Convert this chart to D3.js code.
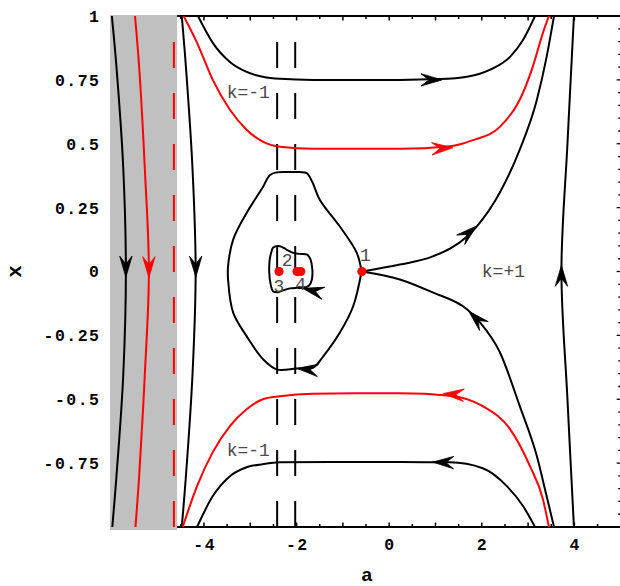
<!DOCTYPE html>
<html><head><meta charset="utf-8">
<script src="https://cdn.jsdelivr.net/npm/d3@7"></script>
<style>body{margin:0;background:#fff}</style>
</head><body>
<svg id="c" width="620" height="586"></svg>
<script>
// ---------- data ----------
const xTicks = [-4, -2, 0, 2, 4];
const xTickLabels = ["-4", "-2", "0", "2", "4"];
const yTicks = [-0.75, -0.5, -0.25, 0, 0.25, 0.5, 0.75, 1];
const yTickLabels = ["-0.75", "-0.5", "-0.25", "0", "0.25", "0.5", "0.75", "1"];

const forbiddenBand = [-6.03, -4.58];
const dashedRed = [-4.65];
const dashedBlack = [-2.42, -2.03];
const dashTop = 0.898;

const leftBlack = [[-5.99,1],[-5.89,0.80],[-5.745,0.41],[-5.687,0],[-5.745,-0.41],[-5.89,-0.80],[-5.98,-1]];
const leftRed = [[-5.49,1],[-5.40,0.80],[-5.28,0.41],[-5.19,0],[-5.28,-0.41],[-5.40,-0.80],[-5.48,-1]];
const wallBlack = [[-4.48,1],[-4.39,0.80],[-4.25,0.41],[-4.18,0],[-4.25,-0.41],[-4.39,-0.80],[-4.48,-1]];
const topBlack = [[-4.13,1.0],[-3.81,0.895],[-3.44,0.82],[-3.08,0.781],[-2.73,0.762],[-2.36,0.754],[-1.65,0.75],[-0.7,0.75],[0.23,0.75],[1.09,0.753],[1.68,0.762],[2.17,0.789],[2.61,0.84],[2.89,0.906],[3.15,1.0]];
const topRed = [[-4.44,1],[-4.15,0.895],[-3.81,0.75],[-3.44,0.633],[-3.08,0.555],[-2.73,0.508],[-2.36,0.488],[-1.65,0.48],[-0.7,0.48],[0.23,0.48],[1.31,0.49],[1.81,0.514],[2.39,0.566],[2.82,0.672],[3.10,0.801],[3.32,0.934],[3.45,1.0]];
const botRed = [[-4.46,-1],[-4.15,-0.84],[-3.81,-0.707],[-3.44,-0.605],[-3.08,-0.539],[-2.73,-0.5],[-2.36,-0.488],[-1.65,-0.478],[-0.7,-0.477],[0.23,-0.477],[1.31,-0.486],[2.02,-0.527],[2.61,-0.617],[3.04,-0.762],[3.32,-0.891],[3.45,-1]];
const botBlack = [[-4.15,-1],[-3.81,-0.879],[-3.44,-0.801],[-3.08,-0.766],[-2.73,-0.754],[-2.36,-0.747],[-1.2,-0.746],[0.23,-0.746],[1.31,-0.747],[2.02,-0.770],[2.54,-0.840],[2.89,-0.918],[3.15,-1]];
const sepUp = [[-0.59,0],[0.23,0.027],[0.94,0.059],[1.68,0.137],[1.89,0.176],[2.39,0.309],[2.82,0.477],[3.19,0.672],[3.40,0.84],[3.56,1]];
const sepDown = [[-0.59,0],[0.23,-0.031],[0.94,-0.082],[1.68,-0.148],[1.96,-0.199],[2.39,-0.316],[2.82,-0.527],[3.19,-0.723],[3.40,-0.879],[3.56,-1]];
const rightBlack = [[3.99,1],[3.85,0.5],[3.72,0],[3.85,-0.5],[3.99,-1]];
const bigLoop = [[-0.597,0],[-0.70,0.073],[-1.065,0.176],[-1.50,0.281],[-1.66,0.350],[-1.78,0.385],[-1.93,0.389],[-2.145,0.389],[-2.43,0.388],[-2.58,0.377],[-2.72,0.333],[-3.08,0.229],[-3.37,0.125],[-3.48,0.021],[-3.48,-0.031],[-3.37,-0.161],[-3.08,-0.253],[-2.72,-0.344],[-2.43,-0.383],[-2.0,-0.380],[-1.64,-0.376],[-1.42,-0.331],[-1.065,-0.239],[-0.778,-0.136],[-0.597,0]];
const smallLoop = [[-2.51,0.093],[-2.36,0.099],[-2.22,0.086],[-2.07,0.073],[-1.93,0.069],[-1.77,0.066],[-1.70,0.047],[-1.66,0.008],[-1.67,-0.031],[-1.73,-0.055],[-1.86,-0.064],[-2.0,-0.064],[-2.145,-0.066],[-2.29,-0.074],[-2.40,-0.081],[-2.51,-0.077],[-2.56,-0.051],[-2.59,-0.005],[-2.58,0.047],[-2.54,0.079]];

const fixedPointsA = [-0.59, -2.38, -1.99, -1.91];
const pointLabels = ["1", "2", "3", "4"];
const pointLabelPos = [[-0.63, 0.042], [-2.32, 0.023], [-2.50, -0.081], [-2.03, -0.071]];
const regionLabels = ["k=-1", "k=-1", "k=+1"];
const regionLabelPos = [[-3.51, 0.68], [-3.51, -0.721], [2.0, -0.022]];

// arrows: curve name, tip [a,x], from [a,x]
const arrows = [
  ["leftBlack", [-5.687,-0.022], [-5.687,0.07]],
  ["leftRed", [-5.19,-0.024], [-5.19,0.07]],
  ["wallBlack", [-4.176,-0.022], [-4.18,0.07]],
  ["topBlack", [1.14,0.75], [0.7,0.75]],
  ["topRed", [1.375,0.484], [0.9,0.48]],
  ["sepUp", [1.89,0.178], [1.53,0.122]],
  ["sepDown", [1.72,-0.156], [2.15,-0.232]],
  ["rightBlack", [3.72,0.024], [3.72,-0.07]],
  ["botRed", [1.16,-0.478], [1.6,-0.484]],
  ["botBlack", [0.94,-0.746], [1.4,-0.748]],
  ["bigLoop", [-1.99,-0.379], [-1.60,-0.386]],
  ["smallLoop", [-1.866,-0.066], [-1.50,-0.082]]
];

// ---------- drawing ----------
const svg = d3.select("#c");
const X = d3.scaleLinear().domain([-6.03, 5]).range([110, 620.7]);
const Y = d3.scaleLinear().domain([-1, 1]).range([527, 16]);
const RED = "#ff0000";
const colorOf = {leftBlack:"#000", leftRed:RED, wallBlack:"#000", topBlack:"#000", topRed:RED,
  botRed:RED, botBlack:"#000", sepUp:"#000", sepDown:"#000", rightBlack:"#000", bigLoop:"#000", smallLoop:"#000"};
const curves = {leftBlack, leftRed, wallBlack, topBlack, topRed, botRed, botBlack, sepUp, sepDown, rightBlack, bigLoop, smallLoop};
const monoX = new Set(["topBlack","topRed","botRed","botBlack","sepUp","sepDown"]);

svg.append("defs").append("clipPath").attr("id","clip")
  .append("rect").attr("x", X(-6.03)).attr("y", Y(1)).attr("width", X(5)-X(-6.03)).attr("height", Y(-1)-Y(1));

// frame top & bottom
const frame = svg.append("g").attr("stroke","#000").attr("stroke-width",2);
frame.append("line").attr("x1",X(-6.03)).attr("x2",620).attr("y1",Y(1)).attr("y2",Y(1));
frame.append("line").attr("x1",X(-6.03)).attr("x2",620).attr("y1",Y(-1)).attr("y2",Y(-1));
const tickVals = d3.range(-4.5, 5, 0.5);
const tg = svg.append("g").attr("stroke","#000").attr("stroke-width",1.5);
tickVals.forEach(v => {
  const len = Number.isInteger(v) ? 4.5 : 3;
  tg.append("line").attr("x1",X(v)).attr("x2",X(v)).attr("y1",Y(-1)).attr("y2",Y(-1)-len);
  tg.append("line").attr("x1",X(v)).attr("x2",X(v)).attr("y1",Y(1)).attr("y2",Y(1)+len);
});
// right side ticks
d3.range(-1, 1.0001, 0.05).forEach(v => {
  const maj = Math.abs(v*4 - Math.round(v*4)) < 1e-6;
  tg.append("line").attr("x1",X(5)).attr("x2",X(5)-(maj?4:2.5)).attr("y1",Y(v)).attr("y2",Y(v)).attr("stroke-width",1.3);
});

// gray band
svg.append("rect").attr("x",X(forbiddenBand[0])).attr("y",Y(1)-1)
  .attr("width",X(forbiddenBand[1])-X(forbiddenBand[0])).attr("height",Y(-1)-Y(1)+4).attr("fill","#c0c0c0");

const plot = svg.append("g").attr("clip-path","url(#clip)");
// dashed lines
dashedRed.forEach(a => plot.append("line").attr("x1",X(a)).attr("x2",X(a)).attr("y1",Y(dashTop)).attr("y2",Y(-1))
  .attr("stroke",RED).attr("stroke-width",2).attr("stroke-dasharray","26,25"));
dashedBlack.forEach(a => plot.append("line").attr("x1",X(a)).attr("x2",X(a)).attr("y1",Y(dashTop)).attr("y2",Y(-1))
  .attr("stroke","#000").attr("stroke-width",2).attr("stroke-dasharray","26,25"));

const lineCR = d3.line().x(d=>X(d[0])).y(d=>Y(d[1])).curve(d3.curveCatmullRom.alpha(0.5));
const lineMX = d3.line().x(d=>X(d[0])).y(d=>Y(d[1])).curve(d3.curveMonotoneX);
const lineClosed = d3.line().x(d=>X(d[0])).y(d=>Y(d[1])).curve(d3.curveCatmullRomClosed.alpha(0.5));
Object.keys(curves).forEach(k => {
  const gen = k==="smallLoop" ? lineClosed : (monoX.has(k) ? lineMX : lineCR);
  plot.append("path").attr("d", gen(curves[k]))
    .attr("fill","none").attr("stroke",colorOf[k]).attr("stroke-width",2).attr("stroke-linejoin","round");
});

// arrowheads
const L = 21, W = 6.2, N = 0.62;
arrows.forEach(([k, tip, from]) => {
  const tx = X(tip[0]), ty = Y(tip[1]), fx = X(from[0]), fy = Y(from[1]);
  const ang = Math.atan2(ty - fy, tx - fx) * 180 / Math.PI;
  plot.append("path").attr("d", `M0,0 L${-L},${-W} L${-L*N},0 L${-L},${W} Z`)
    .attr("transform", `translate(${tx},${ty}) rotate(${ang})`)
    .attr("fill", colorOf[k]).attr("stroke", colorOf[k]).attr("stroke-width",0.8).attr("stroke-linejoin","miter");
});

// fixed points
svg.append("g").selectAll("circle").data(fixedPointsA).join("circle")
  .attr("cx", d=>X(d)).attr("cy", Y(0)).attr("r", 4.6).attr("fill", RED);

// labels
const lab = svg.append("g").attr("font-family","'Liberation Mono','DejaVu Sans Mono',monospace").attr("fill","#4a4a4a").attr("font-size",18);
pointLabels.forEach((t,i) => lab.append("text").attr("x",X(pointLabelPos[i][0])).attr("y",Y(pointLabelPos[i][1])).text(t));
regionLabels.forEach((t,i) => lab.append("text").attr("x",X(regionLabelPos[i][0])).attr("y",Y(regionLabelPos[i][1])).text(t));

// tick labels
const tl = svg.append("g").attr("font-family","'Liberation Mono','DejaVu Sans Mono',monospace").attr("font-weight","bold")
  .attr("font-size",16.5).attr("letter-spacing","1.5px").attr("fill","#000");
xTicks.forEach((v,i) => tl.append("text").attr("x",X(v)+0.75).attr("y",550).attr("text-anchor","middle").text(xTickLabels[i]));
yTicks.forEach((v,i) => tl.append("text").attr("x",100.5).attr("y",Y(v)).attr("dy","0.36em").attr("text-anchor","end").text(yTickLabels[i]));

// axis titles
svg.append("text").attr("x",(X(-6.03)+X(5))/2 + 1.5).attr("y",581).attr("text-anchor","middle")
  .attr("font-family","'Liberation Sans',Arial,sans-serif").attr("font-weight","bold").attr("font-size",19).text("a");
svg.append("text").attr("transform",`translate(21,${Y(0)}) rotate(-90)`).attr("text-anchor","middle")
  .attr("font-family","'Liberation Mono',monospace").attr("font-weight","bold").attr("font-size",21).text("x");
</script>
</body></html>
